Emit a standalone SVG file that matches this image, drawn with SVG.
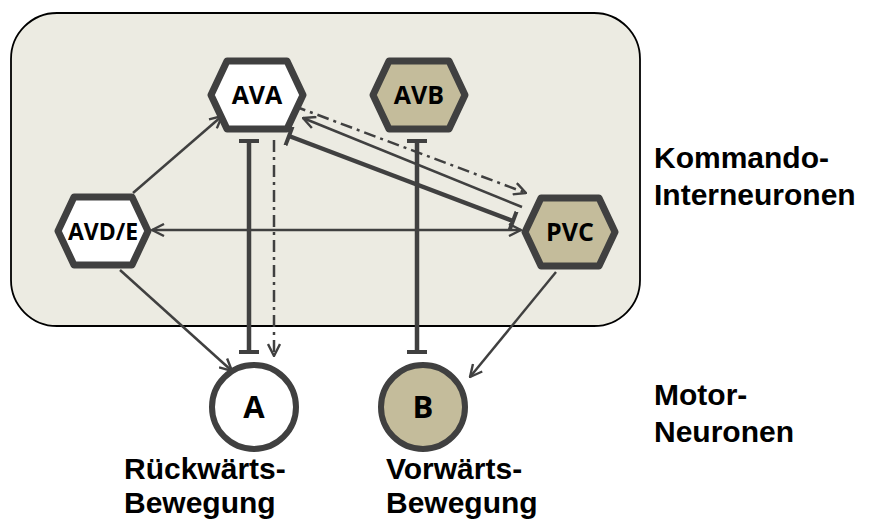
<svg xmlns="http://www.w3.org/2000/svg" width="889" height="522" viewBox="0 0 889 522">
<style>
.hex{stroke:#404040;stroke-width:7;stroke-linejoin:round}
.w{fill:#ffffff}
.t{fill:#c4bc9b}
.nl{font-family:"Open Sans","Liberation Sans",sans-serif;font-weight:bold;font-size:25px;fill:#000;text-anchor:middle}
.cl{font-family:"Open Sans","Liberation Sans",sans-serif;font-weight:bold;font-size:31px;fill:#000;text-anchor:middle}
.lab{font-family:"Liberation Sans",Arial,sans-serif;font-weight:bold;font-size:30px;fill:#000}
.c{stroke:#404040;fill:none;stroke-width:2.5}
.thick{stroke-width:4.5}
.dd{stroke-dasharray:12 5 3 5}
</style>
<defs>
<marker id="arr" viewBox="0 0 14 14" refX="13" refY="7" markerWidth="14" markerHeight="14" markerUnits="userSpaceOnUse" orient="auto-start-reverse">
<path d="M1,1 L13,7 L1,13" fill="none" stroke="#404040" stroke-width="2.4"/>
</marker>
<marker id="bar" viewBox="0 0 6 20" refX="3" refY="10" markerWidth="6" markerHeight="20" markerUnits="userSpaceOnUse" orient="auto">
<rect x="1" y="0" width="4" height="20" fill="#404040"/>
</marker>
</defs>
<rect id="box" x="11" y="13" width="629" height="313" rx="46" ry="46" fill="#ecebe2" stroke="#000" stroke-width="1.8"/>
<g id="connectors">
<line class="c" x1="133" y1="193" x2="222" y2="116" marker-end="url(#arr)"/>
<line class="c" x1="152" y1="230" x2="521" y2="230" marker-start="url(#arr)" marker-end="url(#arr)"/>
<line class="c" x1="120" y1="270" x2="232" y2="371" marker-end="url(#arr)"/>
<line class="c" x1="556" y1="272" x2="470" y2="377" marker-end="url(#arr)"/>
<line class="c thick" x1="249" y1="141" x2="249" y2="352" marker-start="url(#bar)" marker-end="url(#bar)"/>
<line class="c dd" x1="274" y1="140" x2="274" y2="356" marker-end="url(#arr)"/>
<line class="c thick" x1="417" y1="141" x2="417" y2="352" marker-start="url(#bar)" marker-end="url(#bar)"/>
<line class="c dd" x1="294" y1="106" x2="526" y2="193" marker-end="url(#arr)"/>
<line class="c" x1="522" y1="207" x2="303" y2="118" marker-end="url(#arr)"/>
<line class="c thick" x1="289" y1="136" x2="513" y2="221" marker-start="url(#bar)" marker-end="url(#bar)"/>
</g>
<g id="AVA">
<polygon class="hex w" points="211,95 227,61 287,61 303,95 287,129 227,129"/>
<text class="nl" x="257" y="104">AVA</text>
</g>
<g id="AVB">
<polygon class="hex t" points="373,95 389,61 449,61 465,95 449,129 389,129"/>
<text class="nl" x="419" y="104">AVB</text>
</g>
<g id="AVDE">
<polygon class="hex w" points="58,231 74,197 132,197 148,231 132,265 74,265"/>
<text class="nl" x="103" y="240" style="font-size:23px">AVD/E</text>
</g>
<g id="PVC">
<polygon class="hex t" points="525,232 541,198 599,198 615,232 599,266 541,266"/>
<text class="nl" x="570" y="241">PVC</text>
</g>
<g id="A">
<circle cx="254" cy="407" r="42" fill="#fff" stroke="#404040" stroke-width="6"/>
<text class="cl" x="254" y="418">A</text>
</g>
<g id="B">
<circle cx="423" cy="407" r="42" fill="#c4bc9b" stroke="#404040" stroke-width="6"/>
<text class="cl" x="423" y="418">B</text>
</g>
<g id="labels">
<text class="lab" x="654" y="168">Kommando-</text>
<text class="lab" x="654" y="205">Interneuronen</text>
<text class="lab" x="654" y="405">Motor-</text>
<text class="lab" x="654" y="442">Neuronen</text>
<text class="lab" x="124" y="479">Rückwärts-</text>
<text class="lab" x="124" y="513">Bewegung</text>
<text class="lab" x="386" y="479">Vorwärts-</text>
<text class="lab" x="386" y="513">Bewegung</text>
</g>
</svg>
